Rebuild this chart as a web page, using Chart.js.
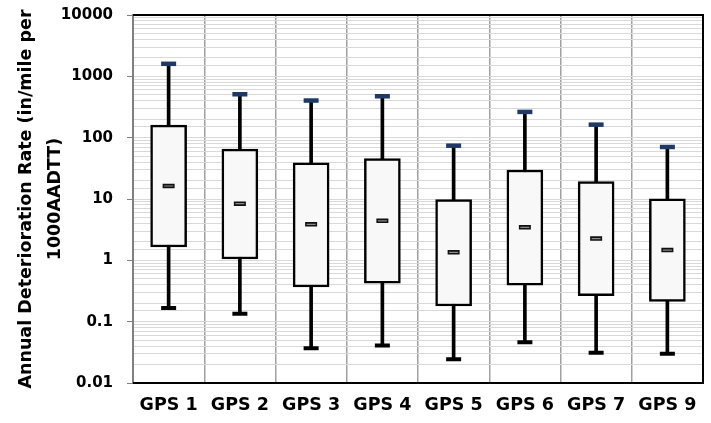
<!DOCTYPE html>
<html>
<head>
<meta charset="utf-8">
<script src="https://cdn.jsdelivr.net/npm/chart.js@4.4.1/dist/chart.umd.min.js"></script>
<style>
  html, body { margin:0; padding:0; background:#fff; overflow:hidden; }
  #wrap { width:711px; height:423px; }
  #c { display:block; }
</style>
</head>
<body>
<div id="wrap"><canvas id="c"></canvas></div>
<script>
/* box plot of annual deterioration rate by GPS group */
const groups  = ['GPS 1','GPS 2','GPS 3','GPS 4','GPS 5','GPS 6','GPS 7','GPS 9'];
const mins    = [0.167, 0.135, 0.037, 0.041, 0.0243, 0.046, 0.031, 0.030];
const q1s     = [1.65, 1.05, 0.37, 0.426, 0.18, 0.395, 0.265, 0.214];
const medians = [16.3, 8.4, 3.87, 4.4, 1.35, 3.45, 2.26, 1.47];
const q3s     = [160, 65, 39, 45.5, 9.8, 29.7, 19.2, 10.1];
const maxs    = [1600, 510, 403, 473, 74, 263, 163, 70.5];
const yTicks  = [0.01, 0.1, 1, 10, 100, 1000, 10000];

const FONT = "'DejaVu Sans', sans-serif";
const isDecade = v => yTicks.some(t => Math.abs(Math.log10(v) - Math.log10(t)) < 1e-6);

// black frame on top/right/bottom of the plot area
const frame = {
  id: 'frame',
  afterDraw(chart) {
    const { ctx, chartArea: a } = chart;
    ctx.save();
    ctx.strokeStyle = '#000'; ctx.lineWidth = 2;
    ctx.beginPath();
    ctx.moveTo(a.left, a.top); ctx.lineTo(a.right, a.top);
    ctx.lineTo(a.right, a.bottom); ctx.lineTo(a.left, a.bottom);
    ctx.stroke();
    ctx.restore();
  }
};

new Chart(document.getElementById('c'), {
  type: 'bar',
  data: {
    labels: groups,
    datasets: [
      { label:'Whisker', data: mins.map((v,i) => [v, maxs[i]]),
        backgroundColor:'#000', barThickness:3, grouped:false, order:5 },
      { label:'Box', data: q1s.map((v,i) => [v, q3s[i]]),
        backgroundColor:'#F8F8F8', borderColor:'#000', borderWidth:2.5,
        borderSkipped:false, barThickness:36, grouped:false, order:4 },
      { type:'line', label:'Max', data: maxs, showLine:false,
        pointStyle:'line', pointRadius:7.5, pointBorderWidth:4.5,
        pointBorderColor:'#1F3864', order:1 },
      { type:'line', label:'Min', data: mins, showLine:false,
        pointStyle:'line', pointRadius:7.5, pointBorderWidth:4,
        pointBorderColor:'#000', order:1 },
      { type:'line', label:'Median', data: medians, showLine:false,
        pointStyle:'line', pointRadius:6, pointBorderWidth:4.5,
        pointBorderColor:'#111', order:2 },
      { type:'line', label:'Median inner', data: medians, showLine:false,
        pointStyle:'line', pointRadius:4.5, pointBorderWidth:1.2,
        pointBorderColor:'#8a8a8a', order:0 }
    ]
  },
  options: {
    responsive:true, maintainAspectRatio:false, animation:false,
    layout:{ autoPadding:false, padding:{ top:15, right:8, left:0, bottom:0 } },
    plugins:{ legend:{display:false}, tooltip:{enabled:false} },
    scales:{
      x:{
        afterFit: s => { s.height = 40; s.paddingLeft = 0; s.paddingRight = 0; },
        grid:{ color:'#A0A0A0', lineWidth:1.5, offset:true, drawTicks:false },
        border:{ color:'#000', width:2 },
        ticks:{ font:{family:FONT, size:17.5, weight:'bold'}, color:'#000', padding:12 }
      },
      y:{
        type:'logarithmic', min:0.01, max:10000,
        afterFit: s => { s.width = 133; s.paddingTop = 0; s.paddingBottom = 0; },
        grid:{
          color:'#D9D9D9', lineWidth:1,
          tickColor: c => isDecade(c.tick.value) ? '#808080' : 'rgba(0,0,0,0)',
          tickLength:6
        },
        border:{ color:'#808080', width:2 },
        ticks:{
          autoSkip:false, padding:14,
          font:{family:FONT, size:15, weight:'bold'}, color:'#000',
          callback: v => isDecade(v) ? String(v) : ''
        },
        title:{
          display:true,
          text:['Annual Deterioration Rate (in/mile per','1000AADTT)'],
          font:{family:FONT, size:17.5, weight:'bold', lineHeight:1.65},
          color:'#000', padding:{top:12,bottom:4}
        }
      }
    }
  },
  plugins:[frame]
});
</script>
</body>
</html>
